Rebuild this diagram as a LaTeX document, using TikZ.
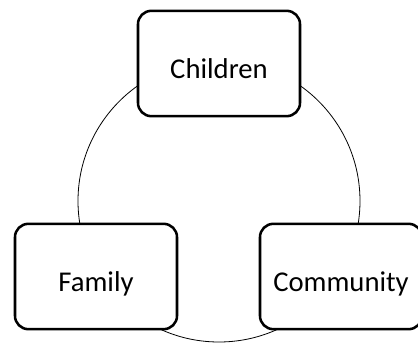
\documentclass[tikz,border=0pt]{standalone}
\usepackage{fontspec}
\setmainfont{Carlito}
\usetikzlibrary{positioning}

\begin{document}
\begin{tikzpicture}[x=0.75pt, y=-0.75pt,
  roundbox/.style={draw, line width=1.9pt, rounded corners=10pt, fill=white,
    minimum width=121.5pt, minimum height=79pt, inner sep=0pt,
    text height=22pt, text depth=0pt,
    font=\fontsize{21.5}{26}\selectfont}]
\clip (0,0) rectangle (418,345);
\draw[line width=0.6pt] (219,201) circle (141);
\node[roundbox] (CHILDREN) at (219,63.5) {Children};
\node[roundbox] (FAMILY) at (96,276.5) {Family};
\node[roundbox] (COMMUNITY) at (341,276.5) {Community};
\end{tikzpicture}
\end{document}
